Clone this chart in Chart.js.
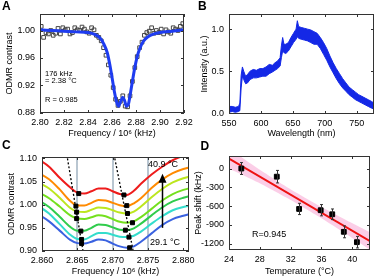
<!DOCTYPE html>
<html>
<head>
<meta charset="utf-8">
<script src="https://cdn.jsdelivr.net/npm/chart.js@4.4.1/dist/chart.umd.min.js"></script>
<style>
  html, body { margin: 0; padding: 0; background: #fff; }
  body { position: relative; width: 375px; height: 279px; overflow: hidden; }
  canvas { position: absolute; }
</style>
</head>
<body>
<canvas id="chartA" width="200" height="140" style="left:0;top:0;width:200px;height:140px"></canvas>
<canvas id="chartC" width="200" height="142" style="left:0;top:137px;width:200px;height:142px"></canvas>
<canvas id="chartB" width="185" height="140" style="left:190px;top:0;width:185px;height:140px"></canvas>
<canvas id="chartD" width="185" height="142" style="left:190px;top:137px;width:185px;height:142px"></canvas>
<script>
// A: ODMR spectrum, measured points + fit
const freqA = [2.801, 2.803, 2.805, 2.807, 2.809, 2.811, 2.813, 2.815, 2.817, 2.819,
  2.821, 2.823, 2.825, 2.827, 2.829, 2.831, 2.833, 2.835, 2.837, 2.839,
  2.841, 2.843, 2.845, 2.847, 2.849, 2.851, 2.853, 2.855, 2.857, 2.859,
  2.861, 2.863, 2.865, 2.867, 2.869, 2.871, 2.873, 2.875, 2.877, 2.879,
  2.881, 2.883, 2.885, 2.887, 2.889, 2.891, 2.893, 2.895, 2.897, 2.899,
  2.901, 2.903, 2.905, 2.907, 2.909, 2.911, 2.913, 2.915, 2.917, 2.919];
const contrastA = [1.006, 0.990, 0.997, 0.995, 1.000, 0.993, 0.996, 1.003, 0.995, 1.004,
  1.001, 1.002, 0.995, 0.997, 1.004, 1.001, 1.000, 1.005, 1.002, 0.998,
  0.996, 1.004, 1.001, 0.993, 0.990, 0.985, 0.975, 0.964, 0.950, 0.935,
  0.917, 0.900, 0.891, 0.897, 0.905, 0.890, 0.889, 0.905, 0.926, 0.946,
  0.962, 0.975, 0.983, 0.993, 0.997, 0.999, 1.004, 0.996, 1.000, 0.997,
  1.002, 0.995, 1.001, 0.998, 0.996, 1.004, 1.002, 1.000, 1.006, 1.010];
const fitFreqA = [2.800, 2.810, 2.820, 2.830, 2.840, 2.846, 2.850, 2.853, 2.856, 2.858,
  2.860, 2.862, 2.864, 2.8655, 2.867, 2.869, 2.8705, 2.872, 2.8735, 2.875,
  2.877, 2.879, 2.881, 2.883, 2.886, 2.890, 2.895, 2.900, 2.910, 2.920];
const fitContrastA = [1.001, 1.000, 0.999, 0.998, 0.997, 0.994, 0.989, 0.981, 0.968, 0.952,
  0.932, 0.911, 0.895, 0.890, 0.896, 0.903, 0.898, 0.890, 0.892, 0.905,
  0.926, 0.946, 0.962, 0.973, 0.984, 0.991, 0.995, 0.997, 0.999, 1.001];
const ticksXA = [2.80, 2.82, 2.84, 2.86, 2.88, 2.90, 2.92];
const ticksYA = [0.88, 0.92, 0.96, 1.00];

// B: emission spectrum (upper and lower edge of the noisy trace)
const wavelengthB = [550, 555, 560, 565, 567, 569, 571, 573, 576, 579,
  583, 588, 593, 598, 603, 608, 613, 618, 622, 626,
  630, 632, 634, 636, 639, 643, 647, 651, 655, 657,
  659, 663, 668, 673, 678, 683, 688, 693, 698, 703,
  708, 713, 718, 723, 728, 733, 738, 743, 748, 753,
  758, 763, 768, 773, 777];
const upperB = [0.08, 0.08, 0.07, 0.08, 0.12, 0.45, 0.55, 0.50, 0.44, 0.46,
  0.50, 0.52, 0.51, 0.53, 0.53, 0.55, 0.58, 0.57, 0.60, 0.62,
  0.66, 0.80, 0.90, 0.82, 0.82, 0.84, 0.90, 0.95, 1.00, 1.10,
  1.03, 1.02, 1.01, 1.00, 0.99, 0.97, 0.95, 0.90, 0.84, 0.77,
  0.68, 0.60, 0.53, 0.47, 0.41, 0.36, 0.31, 0.28, 0.25, 0.22,
  0.20, 0.18, 0.16, 0.14, 0.12];
const lowerB = [0.01, 0.02, 0.01, 0.02, 0.03, 0.30, 0.44, 0.40, 0.35, 0.36,
  0.40, 0.42, 0.42, 0.43, 0.44, 0.44, 0.47, 0.49, 0.51, 0.53,
  0.56, 0.66, 0.74, 0.72, 0.71, 0.74, 0.79, 0.84, 0.88, 0.91,
  0.89, 0.88, 0.87, 0.86, 0.84, 0.82, 0.82, 0.77, 0.70, 0.63,
  0.55, 0.48, 0.41, 0.35, 0.30, 0.26, 0.22, 0.19, 0.16, 0.14,
  0.12, 0.10, 0.08, 0.06, 0.05];
const ticksXB = [550, 600, 650, 700, 750];
const ticksYB = [0, 0.5, 1.0];

// C: ODMR curves from 40.9 °C (red) down to 29.1 °C (blue)
const freqC = [2.8595, 2.861, 2.8625, 2.864, 2.865, 2.866, 2.867, 2.868, 2.869, 2.870,
  2.871, 2.872, 2.873, 2.874, 2.8755, 2.877, 2.8785, 2.880, 2.881];
const curveRed    = [1.098, 1.082, 1.058, 1.037, 1.026, 1.024, 1.029, 1.035, 1.035, 1.029, 1.023, 1.021, 1.030, 1.045, 1.065, 1.082, 1.096, 1.106, 1.112];
const curveOrange = [1.069, 1.055, 1.033, 1.008, 0.998, 0.998, 1.004, 1.010, 1.009, 1.004, 0.999, 0.997, 1.003, 1.014, 1.036, 1.054, 1.068, 1.077, 1.081];
const curveLime   = [1.048, 1.035, 1.015, 0.993, 0.985, 0.984, 0.989, 0.994, 0.993, 0.988, 0.983, 0.981, 0.985, 0.996, 1.016, 1.034, 1.048, 1.057, 1.061];
const curveYGreen = [1.027, 1.014, 0.996, 0.977, 0.970, 0.969, 0.973, 0.977, 0.975, 0.969, 0.963, 0.961, 0.964, 0.973, 0.991, 1.009, 1.023, 1.032, 1.036];
const curveGreen  = [1.010, 0.995, 0.974, 0.952, 0.944, 0.944, 0.950, 0.957, 0.956, 0.951, 0.946, 0.945, 0.949, 0.959, 0.977, 0.994, 1.007, 1.015, 1.019];
const curveCyan   = [0.997, 0.981, 0.958, 0.935, 0.926, 0.925, 0.932, 0.939, 0.939, 0.935, 0.931, 0.930, 0.933, 0.942, 0.959, 0.975, 0.988, 0.995, 0.998];
const curveBlue   = [0.979, 0.964, 0.944, 0.924, 0.917, 0.916, 0.920, 0.925, 0.923, 0.916, 0.910, 0.907, 0.910, 0.920, 0.938, 0.956, 0.969, 0.976, 0.980];
const dipLeftX  = [2.8652, 2.8648, 2.8649, 2.8649, 2.8655, 2.8656, 2.8656];
const dipLeftY  = [1.024, 0.997, 0.984, 0.970, 0.943, 0.925, 0.916];
const dipRightX = [2.8716, 2.8720, 2.8721, 2.8728, 2.8718, 2.8723, 2.8724];
const dipRightY = [1.021, 0.998, 0.981, 0.961, 0.945, 0.930, 0.907];
const trendLeftX  = [2.8636, 2.8658];
const trendRightX = [2.8703, 2.8729];
const trendY = [1.10, 0.90];
const arrowC = { x: 2.877, from: 0.950, to: 1.067 };
const ticksXC = [2.860, 2.865, 2.870, 2.875, 2.880];
const ticksYC = [0.90, 0.95, 1.00, 1.05, 1.10];

// D: peak shift vs temperature
const tempD  = [25.6, 30.2, 33.1, 35.9, 37.4, 38.9, 40.6];
const shiftD = [0, -130, -645, -665, -730, -1010, -1175];
const errD   = [95, 100, 90, 90, 85, 95, 92];
const fitTempD  = [24, 42.4];
const fitShiftD = [160, -1165];
const bandTempD = [24, 27, 30, 33, 36, 39, 42.4];
const bandUpD   = [325, 64, -177, -403, -614, -810, -1025];
const bandLowD  = [-5, -176, -367, -573, -794, -1030, -1305];
const ticksXD = [24, 28, 32, 36, 40];
const ticksYD = [0, -300, -600, -900, -1200];

const FONT = '"Liberation Sans", Arial, sans-serif';
Chart.defaults.font.family = FONT;
Chart.defaults.color = '#000';
Chart.defaults.animation = false;
Chart.defaults.plugins.legend.display = false;
Chart.defaults.plugins.tooltip.enabled = false;

const pts = (xs, ys) => xs.map((x, i) => ({ x: x, y: ys[i] }));

// box around the plot area with inward tick marks on all four sides
const frameTicks = {
  id: 'frameTicks',
  afterDatasetsDraw(chart) {
    const { ctx, chartArea: a, scales } = chart;
    ctx.save();
    ctx.strokeStyle = '#333';
    ctx.lineWidth = 1;
    ctx.beginPath();
    scales.x.ticks.forEach(t => {
      const px = Math.round(scales.x.getPixelForValue(t.value)) + 0.5;
      ctx.moveTo(px, a.bottom); ctx.lineTo(px, a.bottom - 3);
      ctx.moveTo(px, a.top); ctx.lineTo(px, a.top + 3);
    });
    scales.y.ticks.forEach(t => {
      const py = Math.round(scales.y.getPixelForValue(t.value)) + 0.5;
      ctx.moveTo(a.left, py); ctx.lineTo(a.left + 3, py);
      ctx.moveTo(a.right, py); ctx.lineTo(a.right - 3, py);
    });
    ctx.stroke();
    ctx.strokeRect(Math.round(a.left) + 0.5, Math.round(a.top) + 0.5,
      Math.round(a.right - a.left) - 1, Math.round(a.bottom - a.top) - 1);
    ctx.restore();
  }
};

function makeAxis(min, max, tickVals, digits, size, titleText, titlePad, horizontal) {
  return {
    type: 'linear',
    min: min,
    max: max,
    afterBuildTicks: s => { s.ticks = tickVals.map(v => ({ value: v })); },
    afterFit: s => {
      if (horizontal) { s.height = size; s.paddingLeft = 0; s.paddingRight = 0; }
      else { s.width = size; s.paddingTop = 0; s.paddingBottom = 0; }
    },
    grid: { display: false, drawTicks: false },
    border: { display: false },
    ticks: {
      padding: horizontal ? 4 : 5,
      autoSkip: false,
      maxRotation: 0,
      font: { size: 9 },
      color: '#000',
      callback: v => Number(v).toFixed(digits)
    },
    title: { display: true, text: titleText, font: { size: 9 }, color: '#000', padding: titlePad }
  };
}

function label(ctx, text, x, y, size, bold) {
  ctx.font = (bold ? 'bold ' : '') + size + 'px ' + FONT;
  ctx.fillStyle = '#000';
  ctx.fillText(text, x, y);
}

// ---- B ---- (built first)
const axisYB = makeAxis(-0.01, 1.18, ticksYB, 1, 39, 'Intensity (a.u.)', { top: 9, bottom: 0 }, false);
axisYB.ticks.display = false;
new Chart(document.getElementById('chartB'), {
  type: 'line',
  data: {
    datasets: [{
      data: pts(wavelengthB, upperB),
      borderColor: '#1428e6',
      borderWidth: 1,
      pointRadius: 0,
      fill: '+1',
      backgroundColor: '#1428e6'
    }, {
      data: pts(wavelengthB, lowerB),
      borderColor: '#1428e6',
      borderWidth: 1,
      pointRadius: 0,
      fill: false
    }]
  },
  options: {
    responsive: false,
    devicePixelRatio: 1,
    layout: { padding: { top: 14, right: 1, left: 0, bottom: 0 } },
    scales: {
      x: makeAxis(550, 777, ticksXB, 0, 26, 'Wavelength (nm)', { top: 0, bottom: 1.5 }, true),
      y: axisYB
    }
  },
  plugins: [frameTicks, {
    id: 'textB',
    afterDraw(chart) {
      const { ctx, chartArea: a, scales: { y } } = chart;
      ctx.save();
      ctx.font = '9px ' + FONT;
      ctx.fillStyle = '#000';
      ctx.textAlign = 'right';
      ctx.textBaseline = 'middle';
      ticksYB.forEach(v => ctx.fillText(v.toFixed(1), a.left - 5, y.getPixelForValue(v)));
      ctx.textAlign = 'left';
      ctx.textBaseline = 'alphabetic';
      label(ctx, 'B', 8, 10, 12, true);
      ctx.restore();
    }
  }]
});

// ---- A ----
new Chart(document.getElementById('chartA'), {
  type: 'line',
  data: {
    datasets: [{
      data: pts(fitFreqA, fitContrastA),
      borderColor: '#1e3cf0',
      borderWidth: 3,
      pointRadius: 0,
      cubicInterpolationMode: 'monotone'
    }, {
      data: pts(freqA, contrastA),
      showLine: false,
      pointStyle: 'rect',
      pointRadius: 2.6,
      pointBorderWidth: 1,
      pointBorderColor: '#444',
      pointBackgroundColor: 'rgba(255,255,255,0)'
    }]
  },
  options: {
    responsive: false,
    devicePixelRatio: 1,
    layout: { padding: { top: 14, right: 16, left: 0, bottom: 0 } },
    scales: {
      x: makeAxis(2.80, 2.92, ticksXA, 2, 27, 'Frequency / 10\u2076 (kHz)', { top: 0, bottom: 1.5 }, true),
      y: makeAxis(0.88, 1.024, ticksYA, 2, 40, 'ODMR contrast', { top: 4.5, bottom: 0 }, false)
    }
  },
  plugins: [frameTicks, {
    id: 'textA',
    afterDraw(chart) {
      const ctx = chart.ctx;
      ctx.save();
      label(ctx, 'A', 2, 10, 12, true);
      label(ctx, '176 kHz', 45, 75.5, 7.5);
      label(ctx, '= 2.38 \u00B0C', 45, 83, 7.5);
      label(ctx, 'R = 0.985', 45, 101.5, 7.5);
      ctx.restore();
    }
  }]
});

// ---- C ----
const curveColors = ['#ee1c1c', '#ff8a00', '#bce61e', '#74e01e', '#30cc4c', '#34ddcc', '#3a62e0'];
const curvesC = [curveRed, curveOrange, curveLime, curveYGreen, curveGreen, curveCyan, curveBlue];
const axisXC = makeAxis(2.860, 2.8808, ticksXC, 3, 28, 'Frequency / 10\u2076 (kHz)', { top: 0, bottom: 1.9 }, true);
axisXC.grid = {
  display: true,
  drawTicks: false,
  lineWidth: 2,
  color: c => (c.tick && c.tick.value > 2.861 && c.tick.value < 2.879) ? '#b9c6d1' : 'rgba(0,0,0,0)'
};
new Chart(document.getElementById('chartC'), {
  type: 'line',
  data: {
    datasets: [{
      data: pts(dipLeftX, dipLeftY).concat(pts(dipRightX, dipRightY)),
      showLine: false,
      pointStyle: 'rect',
      pointRadius: 2.8,
      pointBackgroundColor: '#000',
      pointBorderColor: '#000'
    }, {
      data: pts(trendLeftX, trendY),
      borderColor: '#000',
      borderWidth: 1.3,
      borderDash: [2, 2],
      pointRadius: 0
    }, {
      data: pts(trendRightX, trendY),
      borderColor: '#000',
      borderWidth: 1.3,
      borderDash: [2, 2],
      pointRadius: 0
    }].concat(curvesC.map((c, i) => ({
      data: pts(freqC, c),
      borderColor: curveColors[i],
      borderWidth: 2,
      pointRadius: 0,
      cubicInterpolationMode: 'monotone'
    })))
  },
  options: {
    responsive: false,
    devicePixelRatio: 1,
    layout: { padding: { top: 20, right: 11, left: 0, bottom: 0 } },
    scales: {
      x: axisXC,
      y: makeAxis(0.90, 1.103, ticksYC, 2, 42, 'ODMR contrast', { top: 6.3, bottom: 0 }, false)
    }
  },
  plugins: [frameTicks, {
    id: 'arrowC',
    afterDraw(chart) {
      const { ctx, scales: { x, y } } = chart;
      const ax = Math.round(x.getPixelForValue(arrowC.x)) + 0.5;
      const y0 = y.getPixelForValue(arrowC.from);
      const y1 = y.getPixelForValue(arrowC.to);
      ctx.save();
      ctx.strokeStyle = '#000';
      ctx.fillStyle = '#000';
      ctx.lineWidth = 1.5;
      ctx.beginPath();
      ctx.moveTo(ax, y0);
      ctx.lineTo(ax, y1 + 6);
      ctx.stroke();
      ctx.beginPath();
      ctx.moveTo(ax, y1);
      ctx.lineTo(ax - 4, y1 + 9);
      ctx.lineTo(ax + 4, y1 + 9);
      ctx.closePath();
      ctx.fill();
      label(ctx, 'C', 2, 12, 12, true);
      label(ctx, '40.9 \u00B0C', 148, 30, 9);
      label(ctx, '29.1 \u00B0C', 150, 107.5, 9);
      ctx.restore();
    }
  }]
});

// ---- D ----
new Chart(document.getElementById('chartD'), {
  type: 'line',
  data: {
    datasets: [{
      data: pts(tempD, shiftD),
      showLine: false,
      pointStyle: 'rect',
      pointRadius: 3.4,
      pointBackgroundColor: '#000',
      pointBorderColor: '#000'
    }, {
      data: pts(fitTempD, fitShiftD),
      borderColor: '#ee1111',
      borderWidth: 2,
      pointRadius: 0
    }, {
      data: pts(bandTempD, bandUpD),
      borderWidth: 0,
      borderColor: 'rgba(0,0,0,0)',
      pointRadius: 0,
      tension: 0.4,
      fill: '+1',
      backgroundColor: 'rgba(248,165,212,0.55)'
    }, {
      data: pts(bandTempD, bandLowD),
      borderWidth: 0,
      borderColor: 'rgba(0,0,0,0)',
      pointRadius: 0,
      tension: 0.4,
      fill: false
    }]
  },
  options: {
    responsive: false,
    devicePixelRatio: 1,
    layout: { padding: { top: 19, right: 1, left: 0, bottom: 0 } },
    scales: {
      x: makeAxis(24, 42.3, ticksXD, 0, 29, 'Temperature (\u00B0C)', { top: 0, bottom: 1.9 }, true),
      y: makeAxis(-1300, 200, ticksYD, 0, 39, 'Peak shift (kHz)', { top: 3.6, bottom: 0 }, false)
    }
  },
  plugins: [frameTicks, {
    id: 'errorBarsD',
    afterDatasetsDraw(chart) {
      const { ctx, scales: { x, y } } = chart;
      ctx.save();
      ctx.strokeStyle = '#333';
      ctx.lineWidth = 1;
      ctx.beginPath();
      tempD.forEach((t, i) => {
        const px = Math.round(x.getPixelForValue(t)) + 0.5;
        const yTop = y.getPixelForValue(shiftD[i] + errD[i]);
        const yBot = y.getPixelForValue(shiftD[i] - errD[i]);
        ctx.moveTo(px, yTop); ctx.lineTo(px, yBot);
        ctx.moveTo(px - 1.5, yTop); ctx.lineTo(px + 1.5, yTop);
        ctx.moveTo(px - 1.5, yBot); ctx.lineTo(px + 1.5, yBot);
      });
      ctx.stroke();
      ctx.restore();
    },
    afterDraw(chart) {
      const ctx = chart.ctx;
      ctx.save();
      label(ctx, 'D', 10.5, 12.7, 12, true);
      label(ctx, 'R=0.945', 62, 100, 9);
      ctx.restore();
    }
  }]
});
</script>
</body>
</html>
